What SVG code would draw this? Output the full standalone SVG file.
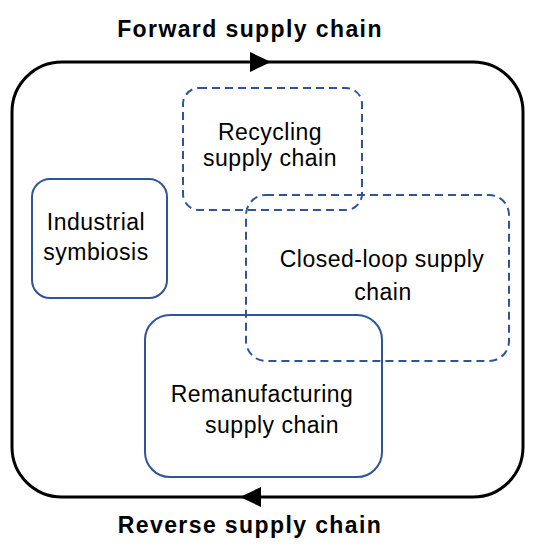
<svg xmlns="http://www.w3.org/2000/svg" width="539" height="546" viewBox="0 0 539 546">
<style>
.box{fill:none;stroke:#2F5597;stroke-width:2}
.dash{stroke-dasharray:8 5}
.t{font-family:"Liberation Sans",Arial,sans-serif;font-size:23px;fill:#000;text-anchor:middle;letter-spacing:0.5px}
.h{font-weight:bold;font-size:23px;letter-spacing:1.4px}
</style>
<defs>
<polygon id="ah" points="0,0 -21,-10 -21,10" fill="#000"/>
</defs>
<rect width="539" height="546" fill="#fff"/>
<g id="connectors">
<rect x="12" y="62" width="511" height="435" rx="50" ry="50" fill="none" stroke="#000" stroke-width="3"/>
<use href="#ah" transform="translate(271,62)"/>
<use href="#ah" transform="translate(240,497) rotate(180)"/>
</g>
<g id="recycling">
<rect class="box dash" x="183" y="88" width="179" height="122" rx="16"/>
<text class="t" x="270" y="140">Recycling</text>
<text class="t" x="270" y="166">supply chain</text>
</g>
<g id="closed-loop">
<rect class="box dash" x="246" y="195" width="263" height="166" rx="20"/>
<text class="t" x="382" y="267">Closed-loop supply</text>
<text class="t" x="383" y="300">chain</text>
</g>
<g id="industrial">
<rect class="box" x="32" y="179" width="135" height="119" rx="18"/>
<text class="t" x="96" y="230">Industrial</text>
<text class="t" x="96" y="260">symbiosis</text>
</g>
<g id="remanufacturing">
<rect class="box" x="145" y="315" width="237" height="162" rx="25"/>
<text class="t" x="262" y="402">Remanufacturing</text>
<text class="t" x="272" y="433">supply chain</text>
</g>
<g id="labels">
<text class="t h" x="250" y="37">Forward supply chain</text>
<text class="t h" x="250" y="533">Reverse supply chain</text>
</g>
</svg>
